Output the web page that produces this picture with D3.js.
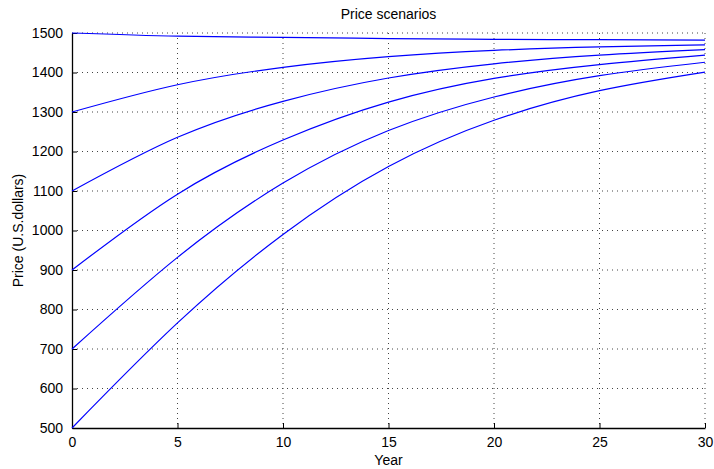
<!DOCTYPE html>
<html>
<head>
<meta charset="utf-8">
<title>Price scenarios</title>
<script src="https://d3js.org/d3.v7.min.js"></script>
<style>
  body { margin: 0; background: #fff; }
  text { font-family: "Liberation Sans", Arial, Helvetica, sans-serif; }
</style>
</head>
<body>
<svg id="chart" width="714" height="469"></svg>
<script>
var years = [0, 5, 10, 15, 20, 25, 30];

// one price path per starting price
var scenario1500 = [1500, 1492, 1489, 1486, 1484, 1483, 1482];
var scenario1300 = [1300, 1369, 1413, 1440, 1456, 1465, 1470];
var scenario1100 = [1100, 1236, 1327, 1386, 1422, 1444, 1458];
var scenario900  = [900, 1092, 1229, 1325, 1385, 1420, 1444];
var scenario700  = [700, 932, 1120, 1253, 1338, 1392, 1426];
var scenario500  = [500, 766, 990, 1162, 1279, 1354, 1401];

var scenarios = [scenario1500, scenario1300, scenario1100, scenario900, scenario700, scenario500];

var xTicks = [0, 5, 10, 15, 20, 25, 30];
var yTicks = [500, 600, 700, 800, 900, 1000, 1100, 1200, 1300, 1400, 1500];

// plot box (note: "top" is taken by window.top, so use other names)
var plotLeft = 72, plotRight = 705, plotTop = 33, plotBottom = 428;

var svg = d3.select("#chart");

var x = d3.scaleLinear().domain([0, 30]).range([plotLeft, plotRight]);
var y = d3.scaleLinear().domain([500, 1500]).range([plotBottom, plotTop]);

// dotted grid
var grid = svg.append("g");
grid.selectAll("line.gx")
    .data(xTicks.slice(1))
    .enter().append("line")
    .attr("x1", function(d) { return x(d); })
    .attr("x2", function(d) { return x(d); })
    .attr("y1", plotTop).attr("y2", plotBottom)
    .attr("stroke", "#444").attr("stroke-dasharray", "1,4");
grid.selectAll("line.gy")
    .data(yTicks.slice(1))
    .enter().append("line")
    .attr("y1", function(d) { return y(d); })
    .attr("y2", function(d) { return y(d); })
    .attr("x1", plotLeft).attr("x2", plotRight)
    .attr("stroke", "#444").attr("stroke-dasharray", "1,4");

// axes, ticks pointing inward
var xAxis = svg.append("g")
    .attr("transform", "translate(0," + plotBottom + ")")
    .call(d3.axisBottom(x).tickValues(xTicks).tickFormat(d3.format("d"))
        .tickSizeInner(-5).tickSizeOuter(0).tickPadding(9));
var yAxis = svg.append("g")
    .attr("transform", "translate(" + plotLeft + ",0)")
    .call(d3.axisLeft(y).tickValues(yTicks).tickFormat(d3.format("d"))
        .tickSizeInner(-5).tickSizeOuter(0).tickPadding(9));

[xAxis, yAxis].forEach(function(a) {
    a.select(".domain").attr("stroke", "#000").attr("stroke-width", 1.3);
    a.selectAll(".tick line").attr("stroke", "#000");
    a.selectAll(".tick text")
        .attr("fill", "#000")
        .style("font-size", "14px")
        .style("font-family", "'Liberation Sans', Arial, sans-serif");
});

// price curves
var line = d3.line()
    .x(function(d, i) { return x(years[i]); })
    .y(function(d) { return y(d); })
    .curve(d3.curveNatural);

svg.selectAll("path.scenario")
    .data(scenarios)
    .enter().append("path")
    .attr("class", "scenario")
    .attr("d", line)
    .attr("fill", "none")
    .attr("stroke", "#0000ff")
    .attr("stroke-width", 1.2);

// labels
svg.append("text")
    .attr("x", (plotLeft + plotRight) / 2).attr("y", 19)
    .attr("text-anchor", "middle")
    .style("font-size", "14px")
    .text("Price scenarios");

svg.append("text")
    .attr("x", (plotLeft + plotRight) / 2).attr("y", 465)
    .attr("text-anchor", "middle")
    .style("font-size", "14px")
    .text("Year");

svg.append("text")
    .attr("transform", "translate(23," + ((plotTop + plotBottom) / 2) + ") rotate(-90)")
    .attr("text-anchor", "middle")
    .style("font-size", "14px")
    .text("Price (U.S.dollars)");
</script>
</body>
</html>
